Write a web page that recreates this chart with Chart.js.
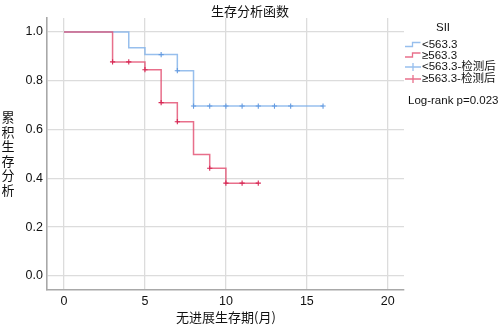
<!DOCTYPE html>
<html><head><meta charset="utf-8">
<script src="https://cdn.jsdelivr.net/npm/chart.js@4"></script>
<style>html,body{margin:0;padding:0;background:#fff}#wrap{width:498px;height:326px}</style>
</head><body><div id="wrap"><canvas id="c" width="498" height="326"></canvas></div>
<script>
const xTicks = [0, 5, 10, 15, 20];
const yTicks = [0, 0.2, 0.4, 0.6, 0.8, 1.0];
const seriesNames = ['<563.3', '≥563.3', '<563.3-检测后', '≥563.3-检测后'];
// Low SII group (<563.3): step times and survival
const lowTimes = [0, 4, 5, 7, 8, 16];
const lowSurv = [1.0, 0.935, 0.907, 0.841, 0.696, 0.696];
const lowCensorTimes = [6, 7, 8, 9, 10, 11, 12, 13, 14, 16];
const lowCensorSurv = [0.907, 0.841, 0.696, 0.696, 0.696, 0.696, 0.696, 0.696, 0.696, 0.696];
// High SII group (>=563.3)
const highTimes = [0, 3, 5, 6, 7, 8, 9, 10, 12];
const highSurv = [1.0, 0.877, 0.845, 0.71, 0.632, 0.497, 0.441, 0.38, 0.38];
const highCensorTimes = [3, 4, 5, 6, 7, 9, 10, 11, 12];
const highCensorSurv = [0.877, 0.877, 0.845, 0.71, 0.632, 0.441, 0.38, 0.38, 0.38];

const BLUE = 'rgba(125,175,232,0.8)';
const RED = 'rgba(226,75,110,0.8)';
const BLUE_M = 'rgb(100,155,225)';
const RED_M = 'rgb(215,40,85)';
const FONT = "'Liberation Sans', 'Noto Sans CJK SC', sans-serif";
const CJK = "'Noto Sans CJK SC', 'Liberation Sans', sans-serif";

const pts = (xs, ys) => xs.map((x, i) => ({x: x, y: ys[i]}));

const textPlugin = {
  id: 'texts',
  afterDraw(chart) {
    const ctx = chart.ctx;
    const ds = chart.data.datasets;
    ctx.save();
    ctx.fillStyle = '#111';
    ctx.textBaseline = 'middle';
    // title
    ctx.font = '13px ' + CJK;
    ctx.textAlign = 'center';
    ctx.fillText('生存分析函数', 250, 11);
    // x title
    ctx.fillText('无进展生存期(月)', 226, 317);
    // y title stacked
    const yt = '累积生存分析';
    for (let i = 0; i < yt.length; i++) ctx.fillText(yt[i], 8, 117 + i * 14.6);
    // legend
    ctx.font = '11.5px ' + FONT;
    ctx.fillText('SII', 443, 28);
    ctx.textAlign = 'left';
    const rows = [45, 55.5, 67, 79];
    const cols = [ds[0].borderColor, ds[1].borderColor, ds[2].borderColor, ds[3].borderColor];
    for (let i = 0; i < 4; i++) {
      const y = rows[i];
      ctx.strokeStyle = cols[i];
      ctx.lineWidth = 1.3;
      ctx.beginPath();
      if (i < 2) {
        ctx.moveTo(405, y + 1.5); ctx.lineTo(412.5, y + 1.5); ctx.lineTo(412.5, y - 2.5); ctx.lineTo(420.5, y - 2.5);
      } else {
        ctx.strokeStyle = i === 2 ? ds[0].borderColor : ds[1].borderColor;
        ctx.moveTo(405, y); ctx.lineTo(421, y); ctx.moveTo(413, y - 4); ctx.lineTo(413, y + 4);
      }
      ctx.stroke();
      ctx.fillStyle = '#111';
      ctx.fillText(seriesNames[i], 422, y);
    }
    ctx.fillText('Log-rank p=0.023', 408, 101);
    ctx.restore();
  }
};

new Chart(document.getElementById('c'), {
  type: 'line',
  data: {
    datasets: [
      {label: seriesNames[0], data: pts(lowTimes, lowSurv), borderColor: BLUE, borderWidth: 1.5, stepped: true, pointRadius: 0, fill: false, order: 2},
      {label: seriesNames[1], data: pts(highTimes, highSurv), borderColor: RED, borderWidth: 1.5, stepped: true, pointRadius: 0, fill: false, order: 1},
      {label: seriesNames[2], type: 'scatter', data: pts(lowCensorTimes, lowCensorSurv), borderColor: BLUE_M, pointStyle: 'cross', pointRadius: 2.6, pointBorderWidth: 1.1, showLine: false},
      {label: seriesNames[3], type: 'scatter', data: pts(highCensorTimes, highCensorSurv), borderColor: RED_M, pointStyle: 'cross', pointRadius: 2.6, pointBorderWidth: 1.1, showLine: false}
    ]
  },
  options: {
    responsive: false,
    animation: false,
    devicePixelRatio: 1,
    layout: {padding: {top: 18, right: 94, left: 0, bottom: 0}},
    plugins: {legend: {display: false}, title: {display: false}, tooltip: {enabled: false}},
    scales: {
      x: {
        type: 'linear', min: -1.05, max: 21,
        afterBuildTicks: s => { s.ticks = xTicks.map(v => ({value: v})); },
        afterFit: s => { s.height = 36; },
        grid: {color: '#dcdcdc', lineWidth: 1.3, drawTicks: false},
        border: {color: '#a8a8a8', width: 1.6},
        ticks: {color: '#111', padding: 4, font: {family: FONT, size: 12.5}, maxRotation: 0}
      },
      y: {
        type: 'linear', min: -0.058, max: 1.057,
        afterBuildTicks: s => { s.ticks = yTicks.map(v => ({value: v})); },
        afterFit: s => { s.width = 47; },
        grid: {color: '#dcdcdc', lineWidth: 1.3, drawTicks: false},
        border: {color: '#a8a8a8', width: 1.6},
        ticks: {color: '#111', padding: 4, font: {family: FONT, size: 12.5}, callback: v => v.toFixed(1)}
      }
    }
  },
  plugins: [textPlugin]
});
</script></body></html>
